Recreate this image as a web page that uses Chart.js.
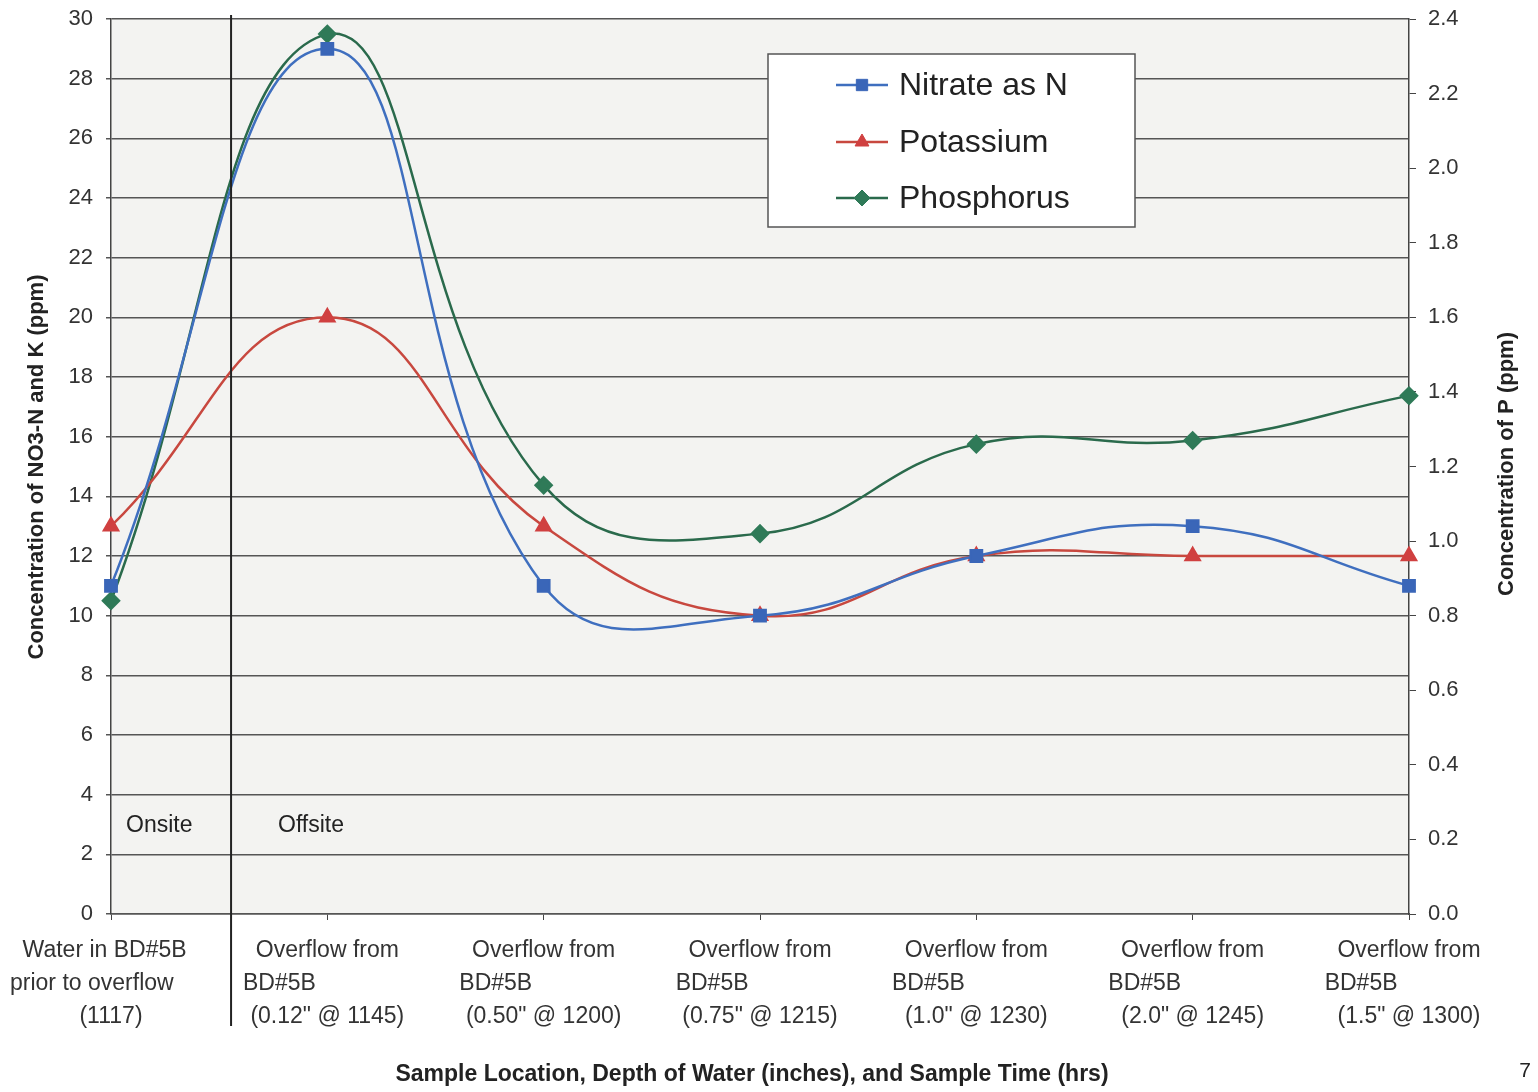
<!DOCTYPE html>
<html>
<head>
<meta charset="utf-8">
<script src="https://cdn.jsdelivr.net/npm/chart.js@4.4.1/dist/chart.umd.min.js"></script>
<style>
  html, body { margin: 0; padding: 0; background: #ffffff; }
  #wrap { width: 1538px; height: 1092px; }
</style>
</head>
<body>
<div id="wrap"><canvas id="chart"></canvas></div>
<script>
// sample locations (trailing spaces nudge lines the way the original wraps them)
const categories = [
  ['Water in BD#5B  ', 'prior to overflow      ', '(1117)'],
  ['Overflow from', 'BD#5B               ', '(0.12" @ 1145)'],
  ['Overflow from', 'BD#5B               ', '(0.50" @ 1200)'],
  ['Overflow from', 'BD#5B               ', '(0.75" @ 1215)'],
  ['Overflow from', 'BD#5B               ', '(1.0" @ 1230)'],
  ['Overflow from', 'BD#5B               ', '(2.0" @ 1245)'],
  ['Overflow from', 'BD#5B               ', '(1.5" @ 1300)']
];

const nitrate = [11, 29, 11, 10, 12, 13, 11];
const potassium = [13, 20, 13, 10, 12, 12, 12];
const phosphorus = [0.84, 2.36, 1.15, 1.02, 1.26, 1.27, 1.39];

const leftTicks = [0, 2, 4, 6, 8, 10, 12, 14, 16, 18, 20, 22, 24, 26, 28, 30];
const rightTicks = [0, 0.2, 0.4, 0.6, 0.8, 1.0, 1.2, 1.4, 1.6, 1.8, 2.0, 2.2, 2.4];

const FONT = '"Liberation Sans", Arial, sans-serif';

// plot background, divider line, notes, axis titles and boxed legend
const decorations = {
  id: 'decorations',
  beforeDraw(chart) {
    const { ctx, chartArea: a } = chart;
    ctx.save();
    ctx.fillStyle = '#f3f3f1';
    ctx.fillRect(a.left, a.top, a.right - a.left, a.bottom - a.top);
    ctx.restore();
  },
  afterDatasetsDraw(chart) {
    const { ctx, scales } = chart;
    const x = scales.x;
    const step = x.getPixelForValue(1) - x.getPixelForValue(0);
    const divX = x.getPixelForValue(0) + step * 0.555;

    ctx.save();
    // onsite / offsite divider
    ctx.strokeStyle = '#222';
    ctx.lineWidth = 2;
    ctx.beginPath();
    ctx.moveTo(divX, 15);
    ctx.lineTo(divX, 1026);
    ctx.stroke();

    ctx.fillStyle = '#222';
    ctx.font = '23px ' + FONT;
    ctx.textBaseline = 'middle';
    ctx.textAlign = 'left';
    ctx.fillText('Onsite', 126, 826);
    ctx.fillText('Offsite', 278, 826);

    // axis titles
    ctx.font = 'bold 23px ' + FONT;
    ctx.textAlign = 'center';
    ctx.fillText('Sample Location, Depth of Water (inches), and Sample Time (hrs)', 752, 1075);

    ctx.font = 'bold 22px ' + FONT;
    ctx.save();
    ctx.translate(37, 467);
    ctx.rotate(-Math.PI / 2);
    ctx.fillText('Concentration of NO3-N and K (ppm)', 0, 0);
    ctx.restore();

    ctx.save();
    ctx.translate(1507, 464);
    ctx.rotate(-Math.PI / 2);
    ctx.fillText('Concentration of P (ppm)', 0, 0);
    ctx.restore();

    // page number
    ctx.font = '21px ' + FONT;
    ctx.fillText('7', 1525, 1071);

    // legend box
    const bx = 768, by = 54, bw = 367, bh = 173;
    ctx.fillStyle = '#ffffff';
    ctx.fillRect(bx, by, bw, bh);
    ctx.strokeStyle = '#555';
    ctx.lineWidth = 1.5;
    ctx.strokeRect(bx, by, bw, bh);

    const rows = [85, 142, 198];
    chart.data.datasets.forEach((ds, i) => {
      const y = rows[i];
      ctx.strokeStyle = ds.borderColor;
      ctx.lineWidth = 2.5;
      ctx.beginPath();
      ctx.moveTo(836, y);
      ctx.lineTo(888, y);
      ctx.stroke();
      ctx.fillStyle = ds.pointBackgroundColor;
      ctx.strokeStyle = ds.pointBorderColor;
      ctx.lineWidth = 1;
      Chart.helpers.drawPoint(ctx, {
        pointStyle: ds.pointStyle,
        radius: ds.pointRadius,
        rotation: 0,
        borderWidth: 1
      }, 862, y);
      ctx.fillStyle = '#222';
      ctx.font = '32px ' + FONT;
      ctx.textAlign = 'left';
      ctx.textBaseline = 'middle';
      ctx.fillText(ds.label, 899, y + 1);
    });
    ctx.restore();
  }
};

new Chart(document.getElementById('chart'), {
  type: 'line',
  data: {
    labels: categories,
    datasets: [
      {
        label: 'Nitrate as N',
        data: nitrate,
        yAxisID: 'y',
        borderColor: '#3f6fbf',
        borderWidth: 2.5,
        pointStyle: 'rect',
        pointRadius: 8,
        pointBackgroundColor: '#3a66b8',
        pointBorderColor: '#3a66b8',
        tension: 0.45
      },
      {
        label: 'Potassium',
        data: potassium,
        yAxisID: 'y',
        borderColor: '#c8483f',
        borderWidth: 2.5,
        pointStyle: 'triangle',
        pointRadius: 8,
        pointBackgroundColor: '#d04040',
        pointBorderColor: '#d04040',
        tension: 0.45
      },
      {
        label: 'Phosphorus',
        data: phosphorus,
        yAxisID: 'y1',
        borderColor: '#2a6a4c',
        borderWidth: 2.5,
        pointStyle: 'rectRot',
        pointRadius: 8,
        pointBackgroundColor: '#2f7a58',
        pointBorderColor: '#2f7a58',
        tension: 0.45
      }
    ]
  },
  options: {
    responsive: true,
    maintainAspectRatio: false,
    animation: false,
    layout: { padding: { top: 19, left: 0, right: 0, bottom: 0 } },
    plugins: {
      legend: { display: false },
      title: { display: false },
      tooltip: { enabled: false }
    },
    scales: {
      x: {
        type: 'category',
        offset: false,
        afterFit(scale) {
          scale.height = 178;
          scale.paddingLeft = 0;
          scale.paddingRight = 0;
        },
        grid: {
          display: true,
          drawOnChartArea: false,
          color: '#444',
          tickLength: 6
        },
        border: { display: true, color: '#555', width: 1.5 },
        ticks: {
          autoSkip: false,
          maxRotation: 0,
          minRotation: 0,
          padding: 14,
          color: '#333',
          font: { family: FONT, size: 23, lineHeight: 1.43 }
        }
      },
      y: {
        position: 'left',
        min: 0,
        max: 30,
        afterFit(scale) {
          scale.width = 111;
          scale.paddingTop = 0;
          scale.paddingBottom = 0;
        },
        afterBuildTicks(scale) { scale.ticks = leftTicks.map(v => ({ value: v })); },
        grid: {
          color: '#555',
          lineWidth: 1.5,
          tickLength: 5
        },
        border: { display: true, color: '#444', width: 1.5 },
        ticks: {
          padding: 13,
          color: '#333',
          font: { family: FONT, size: 22 }
        }
      },
      y1: {
        position: 'right',
        min: 0,
        max: 2.4,
        afterFit(scale) {
          scale.width = 129;
          scale.paddingTop = 0;
          scale.paddingBottom = 0;
        },
        afterBuildTicks(scale) { scale.ticks = rightTicks.map(v => ({ value: v })); },
        grid: {
          drawOnChartArea: false,
          color: '#444',
          tickLength: 7
        },
        border: { display: true, color: '#444', width: 1.5 },
        ticks: {
          padding: 12,
          color: '#333',
          font: { family: FONT, size: 22 },
          callback: v => Number(v).toFixed(1)
        }
      }
    }
  },
  plugins: [decorations]
});
</script>
</body>
</html>
